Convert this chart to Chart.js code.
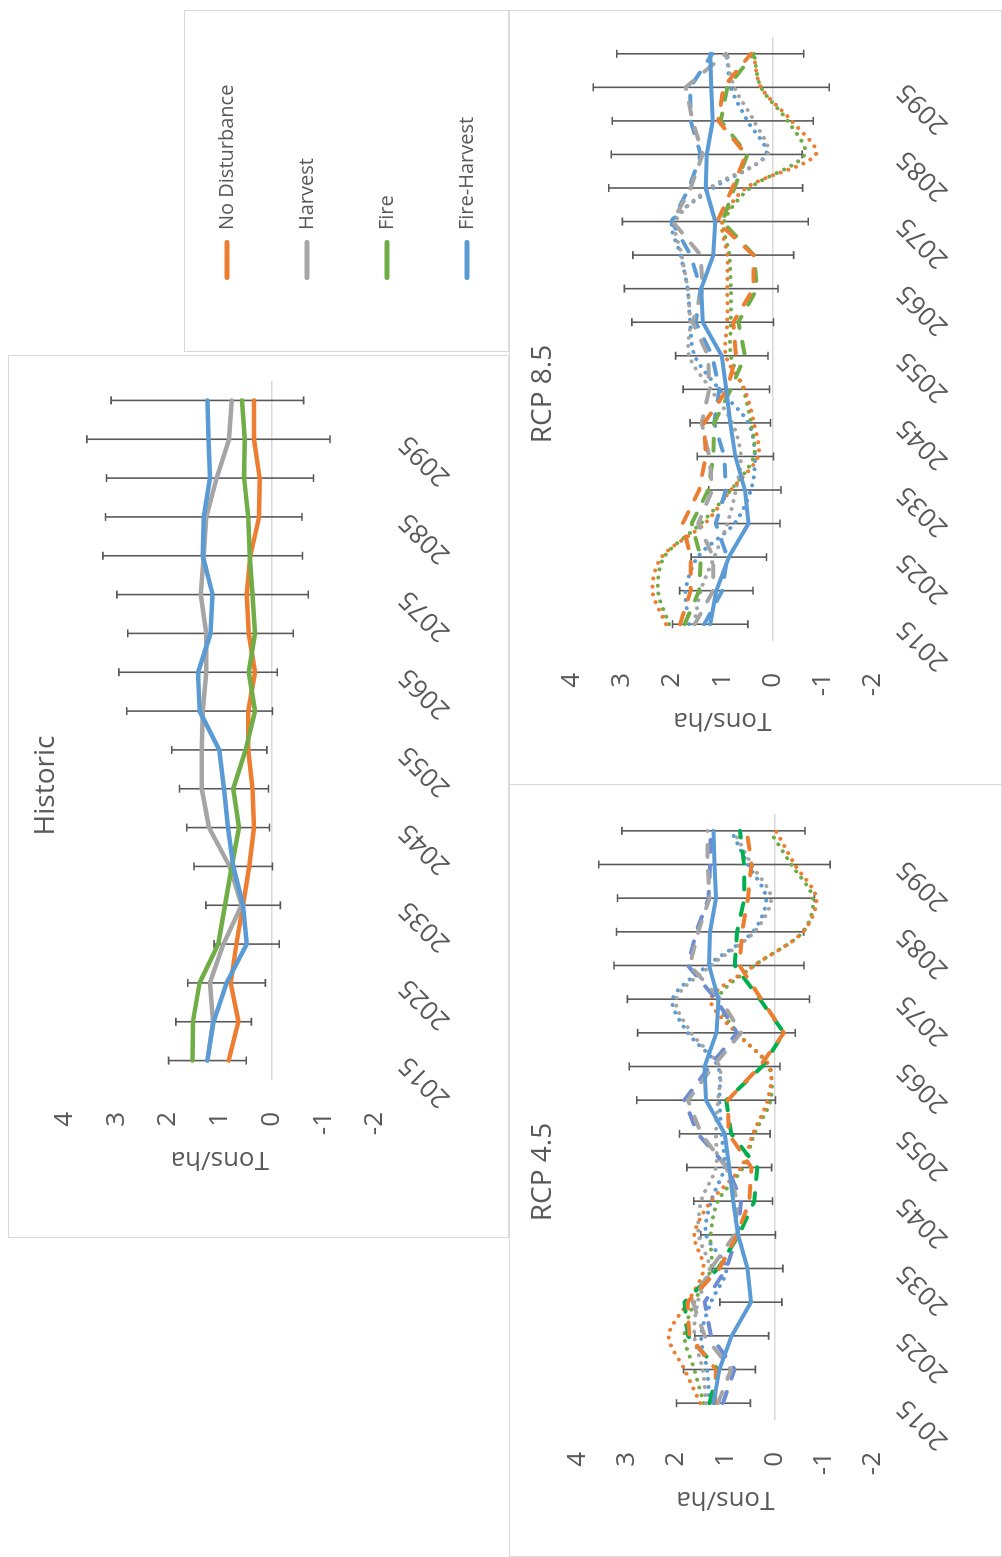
<!DOCTYPE html>
<html>
<head>
<meta charset="utf-8">
<title>Tons/ha by disturbance scenario</title>
<script src="https://cdn.jsdelivr.net/npm/chart.js@4.4.1/dist/chart.umd.min.js"></script>
<style>
  html, body { margin: 0; padding: 0; background: #fff; overflow: hidden; }
  body { width: 1002px; height: 1557px; position: relative; }
  /* the whole figure is laid out upright, then turned a quarter turn to the left */
  #figure {
    position: absolute; left: 0; top: 0; width: 1557px; height: 1002px;
    transform-origin: 0 0; transform: translateY(1557px) rotate(-90deg);
  }
  .panel { position: absolute; box-sizing: border-box; border: 1px solid #d9d9d9; }
  .panel canvas { position: absolute; left: -1px; top: -1px; }
</style>
</head>
<body>
<div id="figure">
  <div class="panel" style="left:319px;top:8px;width:883px;height:501px">
    <canvas id="historic" width="883" height="501"></canvas>
  </div>
  <div class="panel" style="left:1205px;top:184px;width:342px;height:325px;overflow:visible">
    <canvas id="legend" width="342" height="420" style="top:-48px"></canvas>
  </div>
  <div class="panel" style="left:0;top:509px;width:773px;height:493px">
    <canvas id="rcp45" width="773" height="493"></canvas>
  </div>
  <div class="panel" style="left:772px;top:509px;width:775px;height:493px">
    <canvas id="rcp85" width="775" height="493"></canvas>
  </div>
</div>

<script>
// ---- data ----
const years = [2015, 2020, 2025, 2030, 2035, 2040, 2045, 2050, 2055,
               2060, 2065, 2070, 2075, 2080, 2085, 2090, 2095, 2100];

const seriesNames = ['No Disturbance', 'Harvest', 'Fire', 'Fire-Harvest'];
const seriesColors = ['#ED7D31', '#A5A5A5', '#70AD47', '#5B9BD5'];

// Historic
const histNoDist      = [0.83, 0.64, 0.79, 0.68, 0.55, 0.43, 0.34, 0.37, 0.45, 0.45, 0.32, 0.44, 0.48, 0.41, 0.24, 0.23, 0.34, 0.34];
const histHarvest     = [1.24, 1.13, 1.19, 0.93, 0.58, 0.81, 1.21, 1.35, 1.35, 1.33, 1.26, 1.26, 1.37, 1.31, 1.26, 1.06, 0.82, 0.77];
const histFire        = [1.53, 1.52, 1.39, 1.03, 0.90, 0.77, 0.63, 0.74, 0.50, 0.32, 0.44, 0.32, 0.37, 0.42, 0.45, 0.53, 0.52, 0.57];
const histFireHarvest = [1.24, 1.12, 0.87, 0.48, 0.55, 0.74, 0.84, 0.92, 1.01, 1.39, 1.42, 1.18, 1.14, 1.33, 1.31, 1.19, 1.22, 1.24];
const histFireHarvestErr = [0.75, 0.73, 0.75, 0.63, 0.72, 0.76, 0.80, 0.86, 0.92, 1.41, 1.53, 1.60, 1.85, 1.93, 1.90, 2.00, 2.35, 1.86];

// RCP 4.5 (dashed and dotted scenario runs)
const rcp45DashNoDist      = [1.21, 1.19, 1.73, 1.77, 1.12, 0.76, 0.51, 0.47, 0.93, 0.95, 0.30, -0.19, 0.27, 0.71, 0.66, 0.54, 0.47, 0.56];
const rcp45DashHarvest     = [1.15, 0.88, 1.42, 1.66, 1.29, 0.81, 0.75, 0.98, 1.49, 1.76, 1.25, 0.68, 1.10, 1.72, 1.55, 1.32, 1.36, 1.36];
const rcp45DashFire        = [1.32, 1.15, 1.76, 1.83, 1.15, 0.72, 0.41, 0.35, 0.88, 0.98, 0.25, -0.19, 0.30, 0.81, 0.76, 0.61, 0.62, 0.70];
const rcp45DashFireHarvest = [1.05, 0.81, 1.29, 1.42, 0.98, 0.75, 0.68, 0.95, 1.56, 1.83, 1.32, 0.76, 1.19, 1.76, 1.59, 1.34, 1.31, 1.30];
const rcp45DotNoDist       = [1.51, 1.83, 2.15, 1.76, 1.44, 1.63, 1.29, 0.68, 0.44, 0.14, 0.10, 0.78, 1.29, 0.41, -0.58, -0.85, -0.41, -0.03];
const rcp45DotHarvest      = [1.39, 1.46, 1.63, 1.56, 1.32, 1.54, 1.49, 1.19, 1.19, 1.15, 1.12, 1.69, 2.00, 1.29, 0.41, 0.07, 0.47, 0.83];
const rcp45DotFire         = [1.44, 1.63, 1.83, 1.63, 1.29, 1.30, 1.15, 0.64, 0.41, 0.08, 0.12, 0.75, 1.15, 0.41, -0.58, -0.78, -0.34, 0.10];
const rcp45DotFireHarvest  = [1.32, 1.37, 1.49, 1.29, 0.98, 1.39, 1.29, 1.02, 1.08, 1.12, 1.15, 1.76, 2.07, 1.36, 0.44, 0.17, 0.54, 0.88];

// RCP 8.5
const rcp85DashNoDist      = [1.84, 1.63, 1.63, 1.79, 1.46, 1.33, 1.36, 0.90, 0.73, 0.78, 0.38, 0.38, 1.10, 0.80, 0.53, 1.08, 0.98, 0.43];
const rcp85DashHarvest     = [1.55, 1.18, 1.18, 1.48, 1.20, 1.26, 1.41, 1.26, 1.28, 1.59, 1.39, 1.43, 1.99, 1.63, 1.39, 1.59, 1.73, 0.93];
const rcp85DashFire        = [1.75, 1.46, 1.43, 1.61, 1.28, 1.18, 1.16, 0.83, 0.55, 0.68, 0.31, 0.37, 1.00, 0.76, 0.50, 1.03, 0.90, 0.37];
const rcp85DashFireHarvest = [1.36, 1.00, 0.90, 1.13, 0.93, 0.96, 1.16, 1.06, 1.20, 1.53, 1.43, 1.63, 2.01, 1.66, 1.43, 1.63, 1.64, 1.20];
const rcp85DotNoDist       = [2.12, 2.39, 2.21, 1.35, 0.83, 0.29, 0.37, 0.56, 0.93, 0.90, 0.90, 0.90, 1.00, 0.53, -0.86, -0.38, 0.23, 0.38];
const rcp85DotHarvest      = [1.56, 1.43, 1.16, 0.90, 0.73, 0.63, 0.80, 1.23, 1.66, 1.64, 1.69, 1.81, 1.93, 1.25, 0.10, 0.37, 0.76, 0.93];
const rcp85DotFire         = [2.06, 2.28, 2.16, 1.43, 0.83, 0.37, 0.43, 0.58, 0.83, 0.83, 0.83, 0.86, 0.96, 0.45, -0.64, -0.30, 0.23, 0.37];
const rcp85DotFireHarvest  = [1.66, 1.73, 1.49, 0.76, 0.43, 0.35, 0.48, 1.06, 1.55, 1.64, 1.69, 1.83, 1.99, 1.18, 0.13, 0.50, 0.83, 0.90];

// ---- styling ----
Chart.defaults.font.family = "'Open Sans', 'DejaVu Sans', sans-serif";
Chart.defaults.color = '#595959';
Chart.defaults.animation = false;

const TEXT = '#595959';

// Error bars: drawn from the dataset's own points through the chart scales
const errorBars = {
  id: 'errorBars',
  beforeDatasetsDraw(chart) {
    const { ctx, scales: { x, y } } = chart;
    chart.data.datasets.forEach(ds => {
      if (!ds.errors) return;
      ctx.save();
      ctx.strokeStyle = TEXT;
      ctx.lineWidth = 1.6;
      ds.data.forEach((v, i) => {
        const px = x.getPixelForValue(i);
        const hi = y.getPixelForValue(v + ds.errors[i]);
        const lo = y.getPixelForValue(v - ds.errors[i]);
        ctx.beginPath();
        ctx.moveTo(px, hi); ctx.lineTo(px, lo);
        ctx.moveTo(px - 4, hi); ctx.lineTo(px + 4, hi);
        ctx.moveTo(px - 4, lo); ctx.lineTo(px + 4, lo);
        ctx.stroke();
      });
      ctx.restore();
    });
  }
};

function line(label, data, color, style, order, width) {
  const ds = {
    label, data,
    borderColor: color, backgroundColor: color,
    borderWidth: width || 4,
    pointRadius: 0, pointHoverRadius: 0,
    fill: false, tension: 0, order,
    borderCapStyle: 'round', borderJoinStyle: 'round'
  };
  if (style === 'dash') ds.borderDash = [12, 14];
  if (style === 'dot') { ds.borderDash = [0.1, 8]; ds.tension = 0.3; }
  return ds;
}

function panelChart(id, title, datasets, geo) {
  return new Chart(document.getElementById(id), {
    type: 'line',
    data: { labels: years, datasets },
    options: {
      responsive: false,
      devicePixelRatio: 1,
      layout: { padding: geo.padding },
      plugins: {
        legend: { display: false },
        tooltip: { enabled: false },
        title: {
          display: true, text: title, color: TEXT,
          font: { size: 28, weight: 'normal' },
          padding: geo.titlePad
        }
      },
      scales: {
        x: {
          offset: true,
          grid: { display: false, drawTicks: false },
          border: { display: false },
          ticks: {
            autoSkip: false, minRotation: 45, maxRotation: 45, padding: 18,
            font: { size: 26 }, color: TEXT,
            callback: (v, i) => (i % 2 === 0 ? String(years[i]) : '')
          },
          afterFit: s => { s.height = geo.xHeight; }
        },
        y: {
          min: -2, max: 4,
          grid: {
            drawTicks: false, lineWidth: 1.5,
            color: c => (c.tick && c.tick.value === 0 ? '#d9d9d9' : 'rgba(0,0,0,0)')
          },
          border: { display: false },
          ticks: { stepSize: 1, padding: 32, font: { size: 26 }, color: TEXT },
          title: {
            display: true, text: 'Tons/ha', color: TEXT,
            font: { size: 26 }, padding: { top: 15, bottom: 0 }
          },
          afterFit: s => { s.width = 110; }
        }
      }
    },
    plugins: [errorBars]
  });
}

// Historic
const histLines = [histNoDist, histHarvest, histFire, histFireHarvest];
const histSets = histLines.map((d, i) => line(seriesNames[i], d, seriesColors[i], 'solid', 3 - i, 4.5));
histSets[3].errors = histFireHarvestErr;
panelChart('historic', 'Historic', histSets, {
  padding: { left: 48, right: 26, top: 10, bottom: 0 },
  titlePad: { top: 11, bottom: 2 },
  xHeight: 134
});

// RCP panels: historic Fire-Harvest reference with error bars, plus dashed and dotted runs
function rcpSets(dash, dot, dashColors) {
  const ref = line('Fire-Harvest', histFireHarvest, seriesColors[3], 'solid', 0);
  ref.errors = histFireHarvestErr;
  const dashed = dash.map((d, i) => line(seriesNames[i], d, dashColors[i], 'dash', 1));
  const dotted = dot.map((d, i) => line(seriesNames[i], d, seriesColors[i], 'dot', 2));
  return [ref, ...dashed, ...dotted];
}

panelChart('rcp45', 'RCP 4.5',
  rcpSets([rcp45DashNoDist, rcp45DashHarvest, rcp45DashFire, rcp45DashFireHarvest],
          [rcp45DotNoDist, rcp45DotHarvest, rcp45DotFire, rcp45DotFireHarvest],
          ['#ED7D31', '#A5A5A5', '#00B050', '#6E8CD2']), {
  padding: { left: 27, right: 30, top: 6, bottom: 0 },
  titlePad: { top: 11, bottom: 18 },
  xHeight: 129
});

panelChart('rcp85', 'RCP 8.5',
  rcpSets([rcp85DashNoDist, rcp85DashHarvest, rcp85DashFire, rcp85DashFireHarvest],
          [rcp85DotNoDist, rcp85DotHarvest, rcp85DotFire, rcp85DotFireHarvest],
          ['#ED7D31', '#A5A5A5', '#70AD47', '#5B9BD5']), {
  padding: { left: 34, right: 27, top: 6, bottom: 0 },
  titlePad: { top: 11, bottom: 12 },
  xHeight: 129
});

// Shared legend in its own box
new Chart(document.getElementById('legend'), {
  type: 'line',
  data: {
    labels: [],
    datasets: seriesNames.map((n, i) => ({
      label: n, data: [], borderColor: seriesColors[i], backgroundColor: seriesColors[i], borderWidth: 0
    }))
  },
  options: {
    responsive: false,
    devicePixelRatio: 1,
    layout: { padding: { left: 12 } },
    plugins: {
      tooltip: { enabled: false },
      legend: {
        position: 'left', align: 'center', maxWidth: 320,
        labels: {
          boxWidth: 40, boxHeight: 5, padding: 60,
          useBorderRadius: true, borderRadius: 2.5,
          font: { size: 20 }, color: TEXT
        }
      }
    },
    scales: { x: { display: false }, y: { display: false } }
  }
});
</script>
</body>
</html>
